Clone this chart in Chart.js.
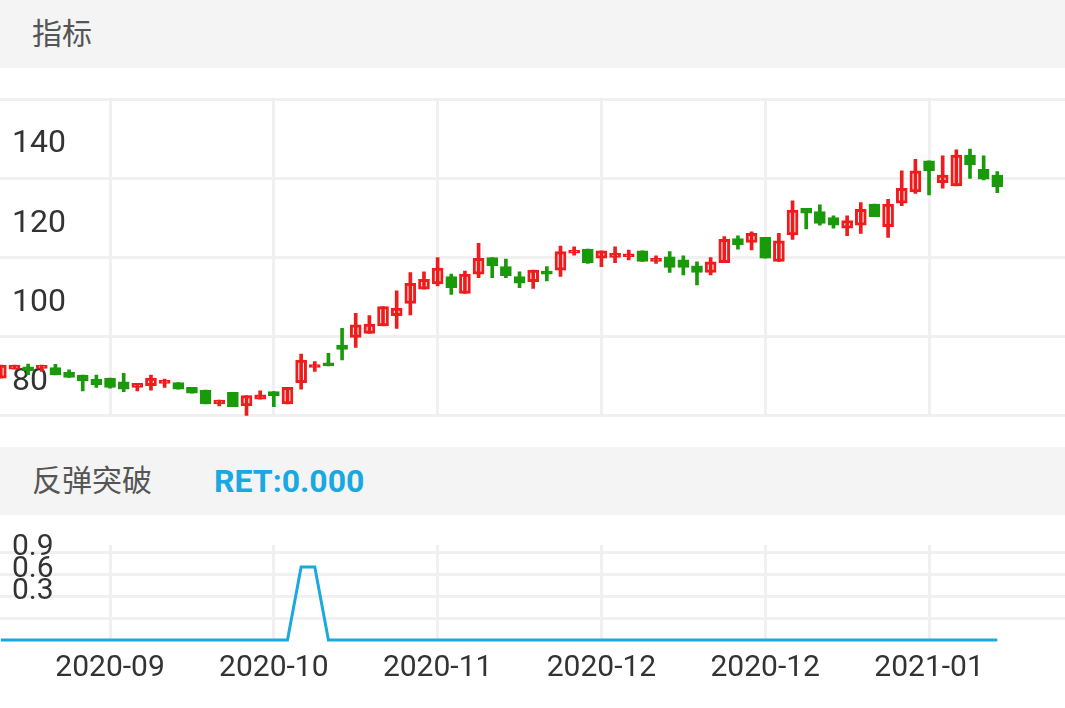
<!DOCTYPE html>
<html>
<head>
<meta charset="utf-8">
<script src="https://cdn.jsdelivr.net/npm/chart.js@4/dist/chart.umd.min.js"></script>
<style>
  html, body { margin: 0; padding: 0; background: #fff; width: 1065px; height: 708px; overflow: hidden; }
  body { font-family: Roboto, 'Noto Sans CJK SC', sans-serif; position: relative; }
  .bar { position: absolute; left: 0; width: 1065px; height: 68px; background: #f4f4f4; color: #555; font-size: 30px; line-height: 68px; }
  .bar span { position: absolute; left: 32px; }
  .bar .ret { left: 214px; color: #1aa8e0; font-weight: bold; font-size: 32px; }
  #mainWrap { position: absolute; left: 0; top: 68px; width: 1065px; height: 379px; }
  #subWrap { position: absolute; left: 0; top: 515px; width: 1065px; height: 171px; }
</style>
</head>
<body>
<div class="bar" style="top:0"><span>指标</span></div>
<div id="mainWrap"><canvas id="mainChart"></canvas></div>
<div class="bar" style="top:447px"><span>反弹突破</span><span class="ret">RET:0.000</span></div>
<div id="subWrap"><canvas id="subChart"></canvas></div>
<script>
/* ===== data ===== */
const openP  = [89.5,91.8,92.4,92.0,92.2,91.0,90.3,89.3,89.5,88.6,87.2,87.6,88.2,88.4,87.2,86.5,83.0,85.9,82.5,84.2,86.1,83.0,88.4,92.2,93.1,97.9,99.8,100.8,102.7,105.3,108.4,112.0,113.3,115.2,110.9,115.8,120.0,117.7,115.2,113.9,116.6,116.8,121.1,122.1,119.8,120.0,120.2,121.7,119.0,120.2,119.4,117.9,116.2,118.7,124.8,123.8,125.1,119.0,125.7,132.4,131.6,130.1,127.4,128.2,133.5,127.8,133.7,136.6,144.4,138.9,138.1,145.9,142.3,140.8];
const highP  = [92.8,92.8,93.1,92.8,93.0,91.6,90.3,90.3,89.5,90.7,88.2,90.3,89.3,88.4,87.2,86.5,84.0,85.9,85.1,86.3,86.1,87.2,95.6,93.7,95.8,102.1,105.9,105.3,107.6,111.6,116.2,116.4,120.0,115.8,116.6,123.6,120.0,119.6,116.4,116.8,117.7,122.9,122.7,122.1,121.7,122.7,121.9,121.7,120.4,121.5,120.4,118.9,120.0,125.3,125.5,126.5,125.1,126.1,134.3,132.4,133.3,130.5,130.5,133.9,133.5,134.7,141.9,144.8,144.4,145.7,147.2,147.4,145.7,141.7];
const lowP   = [89.5,91.8,90.4,91.2,90.3,89.7,86.3,87.2,87.0,86.1,86.3,86.5,87.2,86.7,85.7,83.0,82.5,82.3,80.0,84.2,82.3,83.0,86.7,91.2,92.6,94.1,97.3,100.8,102.7,102.1,105.5,112.0,112.8,110.7,110.9,114.9,114.9,114.9,112.4,112.2,114.1,115.2,120.6,118.5,117.7,118.7,119.4,119.0,118.5,116.2,115.6,113.1,115.6,118.7,122.1,121.9,119.8,119.0,124.6,127.2,128.2,127.4,125.5,126.1,130.3,125.1,133.1,136.2,135.8,137.5,138.1,140.0,139.6,136.4];
const closeP = [92.8,92.8,91.4,92.6,90.3,89.7,88.8,87.8,87.2,86.7,88.2,89.5,88.8,86.7,85.7,83.0,84.0,82.3,85.1,85.3,85.1,87.2,94.1,92.6,92.6,96.8,103.0,103.2,107.6,107.2,113.5,114.5,117.3,112.4,115.8,119.8,117.9,115.4,113.5,116.8,115.8,121.5,121.5,118.7,121.7,121.1,120.8,119.0,119.8,117.5,117.5,116.2,118.9,124.6,123.2,126.1,119.8,124.2,132.0,131.2,128.6,128.2,129.3,132.2,130.3,133.5,137.5,141.9,141.9,140.8,145.9,143.4,139.8,137.9];
const retVals = openP.map((_, i) => (i === 22 || i === 23) ? 1 : 0);
const tickPos = [8, 20, 32, 44, 56, 68];
const tickLabels = ['2020-09', '2020-10', '2020-11', '2020-12', '2020-12', '2021-01'];

/* ===== style ===== */
const C = { up: '#ee1c1c', down: '#1a9a0a', ret: '#1aa8e0', grid: '#f0f0f2', text: '#333' };
const X_MIN = -0.06, X_MAX = 77.96;
const isUp = i => closeP[i] >= openP[i];

const xBase = {
    type: 'linear', min: X_MIN, max: X_MAX, offset: false,
    afterBuildTicks: s => { s.ticks = tickPos.map(v => ({ value: v })); },
    grid: { color: C.grid, lineWidth: 3, drawTicks: false, offset: false },
    border: { display: false }
};

/* ---- main candles ---- */
new Chart(document.getElementById('mainChart'), {
    type: 'bar',
    data: {
        datasets: [
            {
                data: openP.map((_, i) => ({ x: i, y: [lowP[i], highP[i]] })),
                backgroundColor: openP.map((_, i) => isUp(i) ? C.up : C.down),
                barThickness: 3, grouped: false
            },
            {
                data: openP.map((_, i) => ({ x: i, y: [openP[i], closeP[i]] })),
                backgroundColor: openP.map((_, i) => isUp(i) ? '#fff' : C.down),
                borderColor: openP.map((_, i) => isUp(i) ? C.up : C.down),
                borderWidth: 3, borderSkipped: false,
                barThickness: 11, grouped: false, minBarLength: 3
            }
        ]
    },
    options: {
        responsive: true, maintainAspectRatio: false, animation: false,
        layout: { padding: 0 },
        plugins: { legend: { display: false }, tooltip: { enabled: false } },
        scales: {
            x: { ...xBase, ticks: { display: false, autoSkip: false }, afterFit: s => { s.height = 0; } },
            y: {
                min: 80, max: 160,
                afterBuildTicks: s => { s.ticks = [80, 100, 120, 140, 160].map(v => ({ value: v })); },
                grid: { color: C.grid, lineWidth: 3, drawTicks: false },
                border: { display: false },
                afterFit: s => { s.width = 0; },
                ticks: {
                    mirror: true, padding: 12, labelOffset: -34, autoSkip: false,
                    color: C.text, font: { size: 32, family: 'Roboto' },
                    callback: v => v === 160 ? '' : v
                }
            }
        }
    }
});

/* ---- RET line ---- */
new Chart(document.getElementById('subChart'), {
    type: 'line',
    data: {
        datasets: [{
            data: retVals.map((v, i) => ({ x: i, y: v })),
            borderColor: C.ret, borderWidth: 3, pointRadius: 0, tension: 0, clip: false
        }]
    },
    options: {
        responsive: true, maintainAspectRatio: false, animation: false,
        layout: { padding: 0 },
        plugins: { legend: { display: false }, tooltip: { enabled: false } },
        scales: {
            x: {
                ...xBase,
                afterFit: s => { s.height = 46; },
                ticks: {
                    padding: 10, color: C.text, font: { size: 30, family: 'Roboto' }, maxRotation: 0, autoSkip: false,
                    callback: v => tickLabels[tickPos.indexOf(v)] || ''
                }
            },
            y: {
                min: 0, max: 1.3,
                afterBuildTicks: s => { s.ticks = [0.3, 0.6, 0.9, 1.2].map(v => ({ value: v })); },
                grid: { color: C.grid, lineWidth: 3, drawTicks: false },
                border: { display: false },
                afterFit: s => { s.width = 0; },
                ticks: {
                    mirror: true, padding: 12, labelOffset: -5, autoSkip: false,
                    color: C.text, font: { size: 30, family: 'Roboto' },
                    callback: v => v < 0.5 ? '' : (v - 0.3).toFixed(1)
                }
            }
        }
    }
});
</script>
</body>
</html>
